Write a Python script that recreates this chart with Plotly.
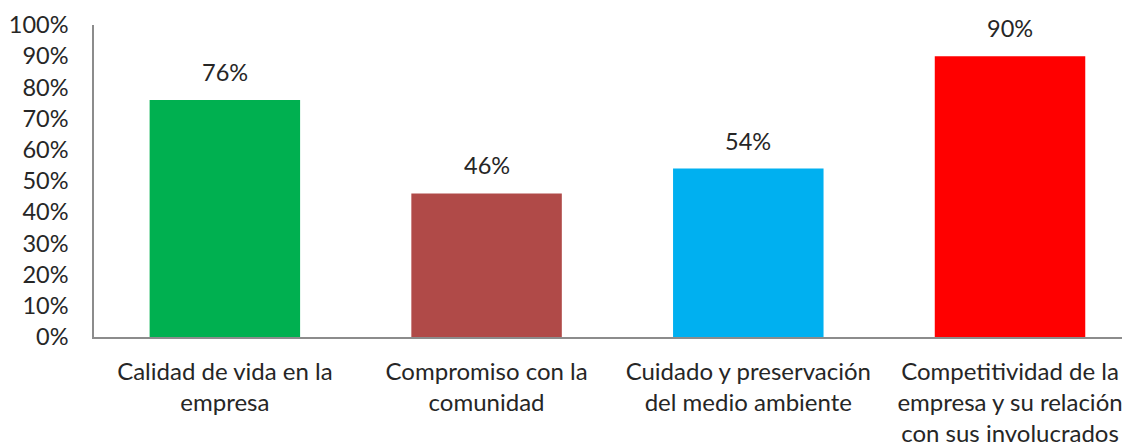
import plotly.graph_objects as go

categories = [
    "Calidad de vida en la<br>empresa",
    "Compromiso con la<br>comunidad",
    "Cuidado y preservación<br>del medio ambiente",
    "Competitividad de la<br>empresa y su relación<br>con sus involucrados",
]
values = [0.76, 0.46, 0.54, 0.90]
colors = ["#00B050", "#B04A48", "#00B0F0", "#FF0000"]
tick_vals = [i / 10 for i in range(11)]
tick_text = [f"{i*10}%" for i in range(11)]

FONT = "Lato, 'Open Sans', sans-serif"
FS = 23.5
FSX = 24
xs = list(range(len(categories)))

fig = go.Figure()
fig.add_trace(go.Bar(
    x=xs, y=values, marker=dict(color=colors, line=dict(width=0)),
    width=0.575, showlegend=False, hoverinfo="skip",
))
for x, v in zip(xs, values):
    fig.add_annotation(x=x, y=v, text=f"{round(v*100)}%", showarrow=False,
                       yanchor="bottom", yshift=12,
                       font=dict(family=FONT, size=FS, color="#262626"))

fig.update_layout(
    width=1130, height=448,
    margin=dict(l=86, r=0, t=17, b=119, autoexpand=False),
    paper_bgcolor="white", plot_bgcolor="white",
    font=dict(family=FONT, size=FS, color="#262626"),
)
fig.update_xaxes(
    tickmode="array", tickvals=xs, ticktext=categories,
    range=[-0.5, 3.489], showgrid=False, zeroline=False,
    showline=True, linecolor="#8c8c8c", linewidth=1.5, ticks="",
    ticklabelstandoff=12, tickfont=dict(family=FONT, size=FSX, color="#262626"),
    automargin=False,
)
fig.update_yaxes(
    tickmode="array", tickvals=tick_vals, ticktext=tick_text,
    range=[0, 1], showgrid=False, zeroline=False,
    showline=True, linecolor="#8c8c8c", linewidth=1.5, ticks="",
    ticklabelstandoff=19, tickfont=dict(family=FONT, size=FS, color="#262626"),
    automargin=False,
)
fig.write_html("out.html")
